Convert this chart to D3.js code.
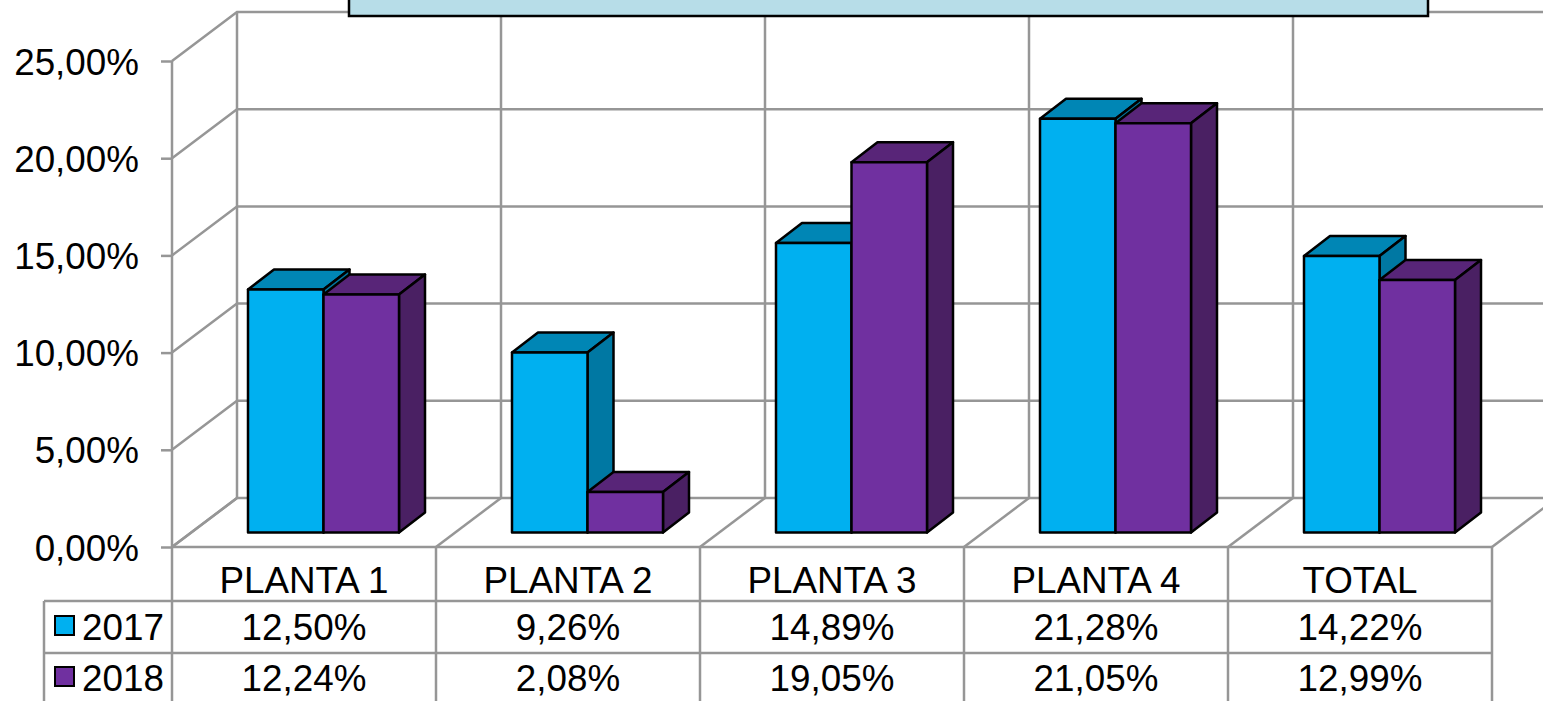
<!DOCTYPE html>
<html>
<head>
<meta charset="utf-8">
<script src="https://cdn.jsdelivr.net/npm/d3@7"></script>
<style>
  html, body { margin: 0; padding: 0; background: #fff; overflow: hidden; }
  svg { display: block; }
  text { font-family: "Liberation Sans", Arial, sans-serif; font-size: 36.8px; fill: #000; }
</style>
</head>
<body>
<div id="chart"></div>
<script>
// data
var categories = ["PLANTA 1", "PLANTA 2", "PLANTA 3", "PLANTA 4", "TOTAL"];
var years = ["2017", "2018"];
var values2017 = [12.50, 9.26, 14.89, 21.28, 14.22];
var values2018 = [12.24, 2.08, 19.05, 21.05, 12.99];
var yTicks = [0, 5, 10, 15, 20, 25];

var seriesValues = [values2017, values2018];
var frontColors = ["#00b0f0", "#7030a0"];
var topColors = ["#0086b5", "#582578"];
var sideColors = ["#0078a3", "#4a2063"];

var width = 1543, height = 701;
var gridColor = "#969696";

// 3d offsets of the back wall and of the bar depth
var wallDx = 65, wallDy = -49;
var barDx = 26, barDy = -20;
var barLift = -14.5;

var es = d3.formatLocale({ decimal: ",", thousands: ".", grouping: [3], currency: ["", ""] });
var fmt = es.format(".2f");
function pct(v) { return fmt(v) + "%"; }

var x = d3.scaleBand().domain(categories).range([172, 1492]);
var y = d3.scaleLinear().domain([0, 25]).range([547, 61]);
var inner = d3.scaleBand().domain(years).range([76, 227]);

var svg = d3.select("#chart").append("svg")
    .attr("width", width)
    .attr("height", height);

/*** back wall and floor ***/
var grid = svg.append("g")
    .attr("fill", "none")
    .attr("stroke", gridColor)
    .attr("stroke-width", 2.5);

yTicks.forEach(function(t) {
    // side wall diagonal + back wall line
    grid.append("path").attr("d", d3.line()([
        [x.range()[0], y(t)],
        [x.range()[0] + wallDx, y(t) + wallDy],
        [x.range()[1] + wallDx, y(t) + wallDy]
    ]));
});

var columnEdges = categories.map(function(c) { return x(c); }).concat([x.range()[1]]);

columnEdges.forEach(function(e) {
    grid.append("line")
        .attr("x1", e + wallDx).attr("x2", e + wallDx)
        .attr("y1", y(25) + wallDy).attr("y2", y(0) + wallDy);
    grid.append("line")
        .attr("x1", e).attr("x2", e + wallDx)
        .attr("y1", y(0)).attr("y2", y(0) + wallDy);
});

/*** y axis ***/
var yAxis = d3.axisLeft(y)
    .tickValues(yTicks)
    .tickFormat(pct)
    .tickSize(11)
    .tickPadding(22);

var yG = svg.append("g")
    .attr("transform", "translate(172,0)")
    .call(yAxis);
yG.selectAll("line, path").attr("stroke", gridColor).attr("stroke-width", 2.5);
yG.select(".domain").attr("d", "M0," + y(25) + "V" + y(0));
yG.attr("font-family", null).attr("font-size", null);
yG.selectAll("text").attr("dy", null).attr("y", 13).attr("fill", "#000");

/*** bars ***/
var barG = svg.append("g")
    .attr("stroke", "#000")
    .attr("stroke-width", 2.5)
    .attr("stroke-linejoin", "round");

categories.forEach(function(cat, i) {
    years.forEach(function(yr, s) {
        var x0 = x(cat) + inner(yr),
            x1 = x0 + inner.bandwidth(),
            y0 = y(0) + barLift,
            y1 = y(seriesValues[s][i]) + barLift;
        // top face
        barG.append("path")
            .attr("fill", topColors[s])
            .attr("d", d3.line()([[x0, y1], [x0 + barDx, y1 + barDy], [x1 + barDx, y1 + barDy], [x1, y1]]) + "Z");
        // side face
        barG.append("path")
            .attr("fill", sideColors[s])
            .attr("d", d3.line()([[x1, y1], [x1 + barDx, y1 + barDy], [x1 + barDx, y0 + barDy], [x1, y0]]) + "Z");
        // front face
        barG.append("rect")
            .attr("fill", frontColors[s])
            .attr("x", x0).attr("y", y1)
            .attr("width", x1 - x0).attr("height", y0 - y1);
    });
});

/*** data table under the chart ***/
var rowLines = [547, 601, 653];
var tableBottom = 701;
var tableLeft = 44;

var table = svg.append("g")
    .attr("stroke", gridColor)
    .attr("stroke-width", 2.5);

table.append("line").attr("x1", 172).attr("x2", 1492).attr("y1", rowLines[0]).attr("y2", rowLines[0]);
rowLines.slice(1).forEach(function(r) {
    table.append("line").attr("x1", tableLeft).attr("x2", 1492).attr("y1", r).attr("y2", r);
});
columnEdges.forEach(function(e) {
    table.append("line").attr("x1", e).attr("x2", e).attr("y1", rowLines[0]).attr("y2", tableBottom);
});
table.append("line").attr("x1", tableLeft).attr("x2", tableLeft).attr("y1", rowLines[1]).attr("y2", tableBottom);

svg.selectAll(".cat-label")
    .data(categories)
  .enter().append("text")
    .attr("class", "cat-label")
    .attr("x", function(d) { return x(d) + x.bandwidth() / 2; })
    .attr("y", 593)
    .attr("text-anchor", "middle")
    .text(function(d) { return d; });

var rowBaselines = [640, 691];

years.forEach(function(yr, s) {
    svg.append("rect")
        .attr("x", 55).attr("y", rowBaselines[s] - 24)
        .attr("width", 19).attr("height", 19)
        .attr("fill", frontColors[s])
        .attr("stroke", "#000")
        .attr("stroke-width", 2);
    svg.append("text")
        .attr("x", 82).attr("y", rowBaselines[s])
        .text(yr);
    categories.forEach(function(cat, i) {
        svg.append("text")
            .attr("x", x(cat) + x.bandwidth() / 2)
            .attr("y", rowBaselines[s])
            .attr("text-anchor", "middle")
            .text(pct(seriesValues[s][i]));
    });
});

// title box, cut off by the top of the picture
svg.append("rect")
    .attr("x", 349).attr("y", -10)
    .attr("width", 1079).attr("height", 26)
    .attr("fill", "#b7dde8")
    .attr("stroke", "#000")
    .attr("stroke-width", 2.5);
</script>
</body>
</html>
